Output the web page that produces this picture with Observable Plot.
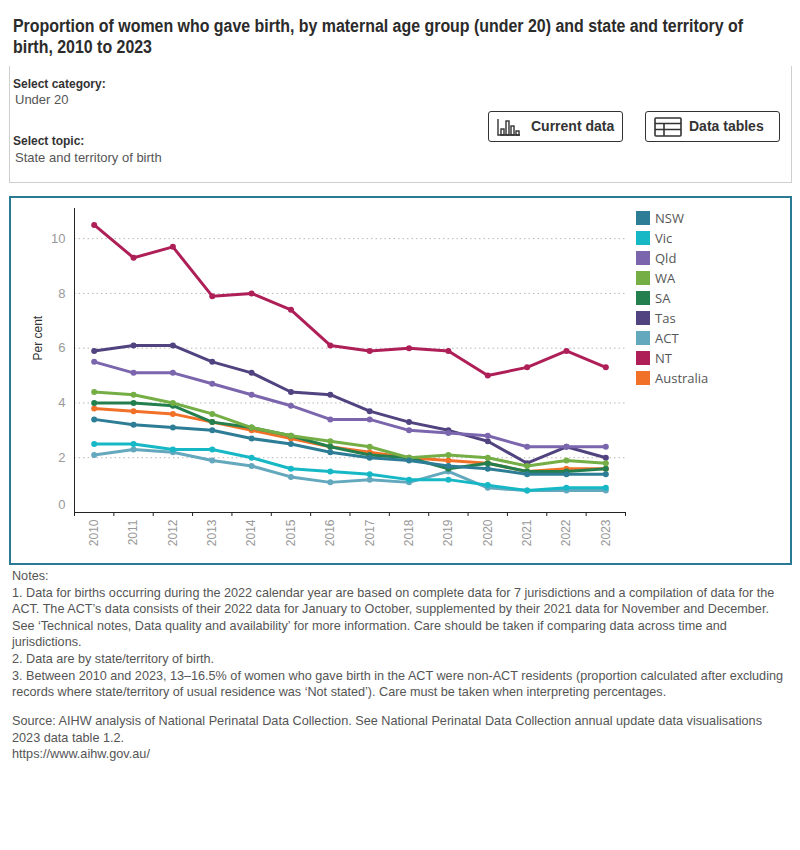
<!DOCTYPE html>
<html>
<head>
<meta charset="utf-8">
<script src="https://cdn.jsdelivr.net/npm/d3@7"></script>
<script src="https://cdn.jsdelivr.net/npm/@observablehq/plot@0.6"></script>
<style>
  body { margin: 0; background: #fff; }
  #page { position: relative; width: 800px; height: 850px; font-family: "Liberation Sans", Arial, sans-serif; color: #333; }
  .abs { position: absolute; white-space: nowrap; }
  .fit { transform-origin: 0 0; }
  .title { left: 13px; top: 16px; font-weight: bold; font-size: 18px; line-height: 21px; color: #2b2b2b; }
  .panel { position: absolute; left: 9px; top: 66px; width: 783px; height: 117px; box-sizing: border-box; border: 1px solid #cfcfcf; border-top: none; }
  .lbl { font-size: 12px; font-weight: bold; line-height: 14px; color: #333; }
  .val { font-size: 13px; line-height: 14px; color: #555; }
  .btn { position: absolute; top: 111px; width: 135px; height: 31px; box-sizing: border-box; border: 1.5px solid #333; border-radius: 3px; }
  .btn span { position: absolute; top: 6px; font-size: 14px; font-weight: bold; line-height: 17px; color: #333; }
  .btn svg { position: absolute; top: 5px; }
  .frame { position: absolute; left: 9px; top: 196px; width: 783px; height: 369px; box-sizing: border-box; border: 2px solid #2b7a94; }
  #chart { position: absolute; left: 0; top: 196px; }
  #legend { position: absolute; left: 636px; top: 211px; font-family: "Open Sans", sans-serif; font-size: 13px; color: #555; }
  .item { position: relative; height: 20px; }
  .sw { position: absolute; left: 0; top: 0; width: 14px; height: 14px; }
  .item span { position: absolute; left: 19px; top: -2px; line-height: 18px; }
  .notes { left: 12px; font-size: 13px; line-height: 16.6px; color: #555; }
</style>
</head>
<body>
<div id="page">
  <div class="abs title fit" data-width="730">Proportion of women who gave birth, by maternal age group (under 20) and state and territory of<br>birth, 2010 to 2023</div>

  <div class="panel"></div>
  <div class="abs lbl" style="left:13px; top:77px;">Select category:</div>
  <div class="abs val" style="left:15px; top:93px;">Under 20</div>
  <div class="abs lbl" style="left:13px; top:134px;">Select topic:</div>
  <div class="abs val" style="left:15px; top:151px;">State and territory of birth</div>

  <div class="btn" style="left:488px;">
    <svg style="left:8px;" width="24" height="20" viewBox="0 0 24 20" fill="none" stroke="#333" stroke-width="1.4">
      <path d="M1 2 V18 H23"/>
      <rect x="4" y="12" width="3" height="6"/>
      <rect x="9" y="4" width="3" height="14"/>
      <rect x="14" y="9" width="3" height="9"/>
      <rect x="19" y="14" width="3" height="4"/>
    </svg>
    <span style="left:42px;">Current data</span>
  </div>
  <div class="btn" style="left:645px;">
    <svg style="left:8px;" width="28" height="20" viewBox="0 0 28 20" fill="none" stroke="#333" stroke-width="1.6">
      <rect x="1" y="1" width="26" height="18" rx="1"/>
      <path d="M1 6.5 H27 M1 12.5 H27 M10 6.5 V19"/>
    </svg>
    <span style="left:43px;">Data tables</span>
  </div>

  <div class="frame"></div>
  <div id="chart"></div>
  <div id="legend"></div>

  <div class="abs notes fit" data-width="771" style="top:568px;">Notes:<br>1. Data for births occurring during the 2022 calendar year are based on complete data for 7 jurisdictions and a compilation of data for the<br>ACT. The ACT’s data consists of their 2022 data for January to October, supplemented by their 2021 data for November and December.<br>See ‘Technical notes, Data quality and availability’ for more information. Care should be taken if comparing data across time and<br>jurisdictions.<br>2. Data are by state/territory of birth.<br>3. Between 2010 and 2023, 13–16.5% of women who gave birth in the ACT were non-ACT residents (proportion calculated after excluding<br>records where state/territory of usual residence was ‘Not stated’). Care must be taken when interpreting percentages.</div>
  <div class="abs notes fit" data-width="750" style="top:713px;">Source: AIHW analysis of National Perinatal Data Collection. See National Perinatal Data Collection annual update data visualisations<br>2023 data table 1.2.<br>https://www.aihw.gov.au/</div>
</div>

<script>
// Years on the x axis
const years = [2010, 2011, 2012, 2013, 2014, 2015, 2016, 2017, 2018, 2019, 2020, 2021, 2022, 2023];

// Jurisdictions, in legend order, and their colours
const series = ["NSW", "Vic", "Qld", "WA", "SA", "Tas", "ACT", "NT", "Australia"];
const colors = ["#2e7d96", "#16b8c6", "#7b66ae", "#74ae45", "#23804e", "#51437f", "#64a8be", "#ae1f58", "#f27128"];

// Per cent of women who gave birth aged under 20, by state/territory of birth
const nsw       = [3.4, 3.2, 3.1, 3.0, 2.7, 2.5, 2.2, 2.0, 1.9, 1.7, 1.6, 1.4, 1.4, 1.4];
const vic       = [2.5, 2.5, 2.3, 2.3, 2.0, 1.6, 1.5, 1.4, 1.2, 1.2, 1.0, 0.8, 0.9, 0.9];
const qld       = [5.5, 5.1, 5.1, 4.7, 4.3, 3.9, 3.4, 3.4, 3.0, 2.9, 2.8, 2.4, 2.4, 2.4];
const wa        = [4.4, 4.3, 4.0, 3.6, 3.1, 2.8, 2.6, 2.4, 2.0, 2.1, 2.0, 1.7, 1.9, 1.8];
const sa        = [4.0, 4.0, 3.9, 3.3, 3.1, 2.8, 2.4, 2.1, 2.0, 1.6, 1.8, 1.5, 1.5, 1.6];
const tas       = [5.9, 6.1, 6.1, 5.5, 5.1, 4.4, 4.3, 3.7, 3.3, 3.0, 2.6, 1.8, 2.4, 2.0];
const act       = [2.1, 2.3, 2.2, 1.9, 1.7, 1.3, 1.1, 1.2, 1.1, 1.5, 0.9, 0.8, 0.8, 0.8];
const nt        = [10.5, 9.3, 9.7, 7.9, 8.0, 7.4, 6.1, 5.9, 6.0, 5.9, 5.0, 5.3, 5.9, 5.3];
const australia = [3.8, 3.7, 3.6, 3.3, 3.0, 2.7, 2.4, 2.2, 2.0, 1.9, 1.8, 1.5, 1.6, 1.6];

// Y axis tick values
const yTicks = [2, 4, 6, 8, 10];

const valuesBySeries = {NSW: nsw, Vic: vic, Qld: qld, WA: wa, SA: sa, Tas: tas, ACT: act, NT: nt, Australia: australia};
const rows = series.flatMap((s) => years.map((year, i) => ({series: s, year, value: valuesBySeries[s][i]})));

// First legend entry is painted last (on top)
const drawOrder = [...series].reverse();
const seriesMarks = drawOrder.flatMap((s) => {
  const data = rows.filter((d) => d.series === s);
  return [
    Plot.line(data, {x: "year", y: "value", stroke: "series", strokeWidth: 3, strokeLinejoin: "round"}),
    Plot.dot(data, {x: "year", y: "value", fill: "series", r: 3})
  ];
});

// Band edges between years carry the x tick marks
const bandEdges = d3.range(years[0] - 0.5, years[years.length - 1] + 1, 1);

const chart = Plot.plot({
  width: 800,
  height: 369,
  marginLeft: 74,
  marginRight: 175,
  marginTop: 12,
  marginBottom: 53,
  x: {domain: [years[0] - 0.5, years[years.length - 1] + 0.5]},
  y: {domain: [0, 11.1]},
  color: {domain: series, range: colors},
  style: {fontFamily: "'Liberation Sans', Arial, sans-serif", background: "transparent", overflow: "visible"},
  marks: [
    Plot.gridY(yTicks, {stroke: "#b8b8b8", strokeOpacity: 1, strokeDasharray: "1.5,3"}),
    Plot.axisY(yTicks, {tickSize: 0, tickPadding: 9, fontSize: 13, fill: "#999", label: null}),
    Plot.axisY([0], {tickSize: 0, tickPadding: 9, dy: -8, fontSize: 13, fill: "#999", label: null}),
    Plot.axisX(years, {tickSize: 0, tickPadding: 7, tickRotate: -90, fontSize: 12, fill: "#999", tickFormat: (d) => String(d), label: null}),
    Plot.axisX(bandEdges, {tickSize: 4, tickFormat: () => "", stroke: "#222", label: null}),
    Plot.ruleX([bandEdges[0]], {stroke: "#222"}),
    Plot.ruleY([0], {stroke: "#222"}),
    Plot.text(["Per cent"], {frameAnchor: "left", rotate: -90, dx: -36, fontSize: 12, fill: "#333"}),
    ...seriesMarks
  ]
});
document.getElementById("chart").append(chart);

// Legend swatches
const legend = d3.select("#legend");
series.forEach((s, i) => {
  const item = legend.append("div").attr("class", "item");
  item.append("div").attr("class", "sw").style("background", colors[i]);
  item.append("span").text(s);
});

// Narrow the long text blocks horizontally to their set widths
document.querySelectorAll(".fit").forEach((el) => {
  const natural = el.getBoundingClientRect().width;
  const target = +el.dataset.width;
  if (natural > 0) el.style.transform = `scaleX(${target / natural})`;
});
</script>
</body>
</html>
